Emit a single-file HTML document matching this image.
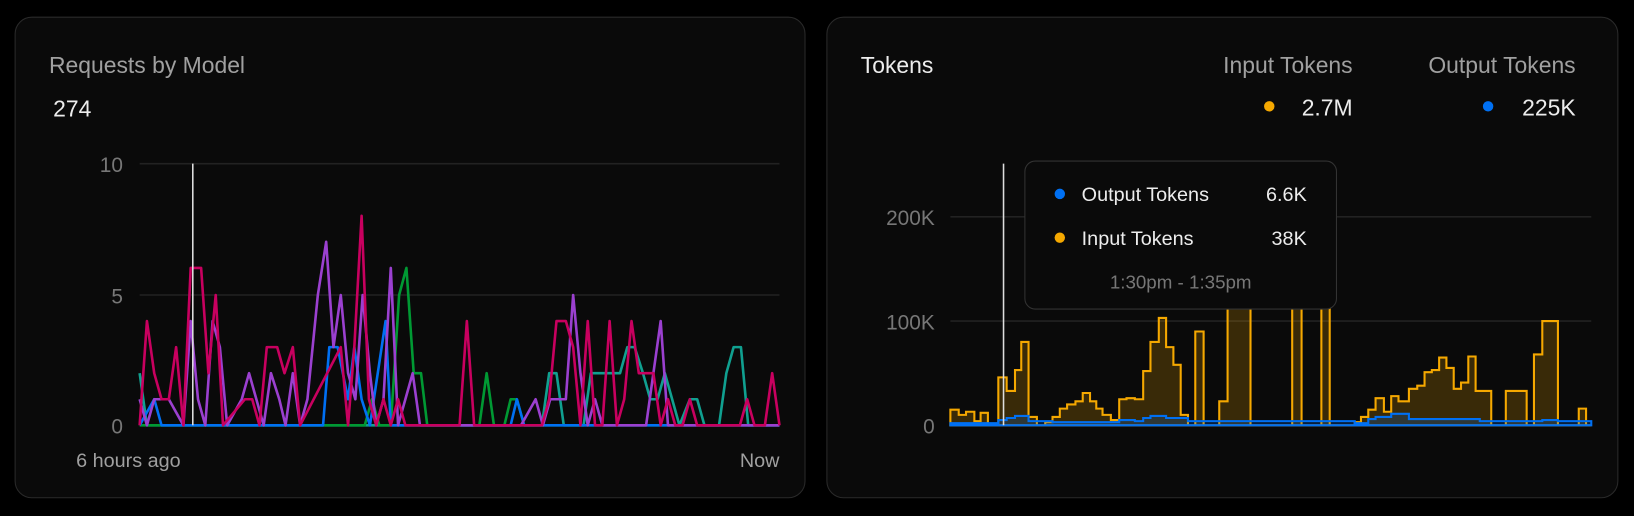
<!DOCTYPE html>
<html><head><meta charset="utf-8"><style>
html,body{margin:0;padding:0;background:#000;width:1634px;height:516px;overflow:hidden}
svg{display:block}
text{font-family:"Liberation Sans",sans-serif}
</style></head><body>
<svg width="1634" height="516" viewBox="0 0 1568 495" preserveAspectRatio="none" xmlns="http://www.w3.org/2000/svg">
<rect x="0" y="0" width="1568" height="495" fill="#000"/>
<rect x="14.5" y="16.5" width="758" height="461" rx="16" fill="#0a0a0a" stroke="#2a2a2a"/>
<rect x="793.5" y="16.5" width="759" height="461" rx="16" fill="#0a0a0a" stroke="#2a2a2a"/>

<!-- left -->
<text x="47" y="70" font-size="22" fill="#a0a0a0">Requests by Model</text>
<text x="51" y="112" font-size="22" fill="#ededed">274</text>
<line x1="134" y1="157" x2="748" y2="157" stroke="#222" stroke-width="1.5"/>
<line x1="134" y1="283" x2="748" y2="283" stroke="#222" stroke-width="1.5"/>
<text x="118" y="165" font-size="20" fill="#777" text-anchor="end">10</text>
<text x="118" y="291" font-size="20" fill="#777" text-anchor="end">5</text>
<text x="118" y="416" font-size="20" fill="#777" text-anchor="end">0</text>
<text x="73" y="448" font-size="19" fill="#a0a0a0">6 hours ago</text>
<text x="748" y="448" font-size="19" fill="#a0a0a0" text-anchor="end">Now</text>
<g fill="none" stroke-width="2.5" stroke-linejoin="round">
<polyline stroke="#10a090" points="134,358 141,408 520,408 527,358 534,358 541,408 560,408 567,358 595,358 602,333 609,333 617,358 624,383 631,383 638,358 645,383 652,408 662,383 669,383 676,408 690,408 697,358 704,333 711,333 718,408 748,408"/>
<polyline stroke="#009933" points="134,408 350,408 357,383 364,408 375,408 383,283 390,257 397,358 404,358 410,408 460,408 467,358 474,408 484,408 490,383 496,383 503,408 748,408"/>
<polyline stroke="#0070f3" points="134,408 148,383 155,408 310,408 316,333 324,333 334,383 340,333 347,383 355,408 370,308 375,408 490,408 496,383 503,408 748,408"/>
<polyline stroke="#9b40d0" points="134,383 141,408 148,383 162,383 176,408 183,308 190,383 197,408 204,308 211,333 218,408 232,383 239,358 246,383 253,408 260,358 268,383 274,408 281,358 288,408 295,383 305,283 313,232 320,333 327,283 334,358 341,383 348,283 355,358 361,408 368,383 375,257 382,408 389,383 396,358 403,408 500,408 514,383 521,408 528,383 543,383 550,283 557,358 564,408 571,383 578,408 620,408 634,308 641,408 748,408"/>
<polyline stroke="#c8005f" points="134,408 141,308 148,358 155,383 162,383 169,333 176,408 183,257 193,257 200,358 207,283 214,408 235,383 242,383 249,408 256,333 266,333 273,358 281,333 288,408 327,333 334,408 340,333 347,207 354,383 361,408 368,383 375,408 382,383 389,408 441,408 448,308 455,408 520,408 527,383 534,308 543,308 550,333 557,408 564,308 571,408 578,408 585,308 592,408 599,383 606,308 613,358 627,358 634,408 641,383 648,408 655,408 662,383 669,408 710,408 717,383 724,408 734,408 741,358 748,408"/>
</g>
<line x1="185" y1="157" x2="185" y2="408" stroke="#ddd" stroke-width="1.5"/>

<!-- right -->
<text x="826" y="70" font-size="22" fill="#ededed">Tokens</text>
<text x="1298" y="70" font-size="22" fill="#a0a0a0" text-anchor="end">Input Tokens</text>
<text x="1512" y="70" font-size="22" fill="#a0a0a0" text-anchor="end">Output Tokens</text>
<circle cx="1218" cy="102" r="5" fill="#f5a800"/>
<text x="1298" y="111" font-size="22" fill="#ededed" text-anchor="end">2.7M</text>
<circle cx="1428" cy="102" r="5" fill="#0070f3"/>
<text x="1512" y="111" font-size="22" fill="#ededed" text-anchor="end">225K</text>
<line x1="912" y1="208" x2="1527" y2="208" stroke="#222" stroke-width="1.5"/>
<line x1="912" y1="308" x2="1527" y2="308" stroke="#222" stroke-width="1.5"/>
<text x="897" y="216" font-size="20" fill="#777" text-anchor="end">200K</text>
<text x="897" y="316" font-size="20" fill="#777" text-anchor="end">100K</text>
<text x="897" y="416" font-size="20" fill="#777" text-anchor="end">0</text>
<path fill="rgba(245,168,0,0.2)" stroke="#f5a800" stroke-width="2" d="M912,408 V393 H920 V398 H927 V395 H935 V404 H941 V396 H948 V408 H958 V362 H966 V375 H974 V355 H980 V328 H987 V400 H995 V408 H1003 V405 H1010 V400 H1017 V392 H1024 V388 H1032 V385 H1039 V377 H1046 V385 H1052 V392 H1058 V398 H1066 V403 H1074 V383 H1081 V382 H1089 V383 H1097 V356 H1104 V328 H1112 V305 H1119 V333 H1126 V350 H1133 V398 H1140 V408 H1147 V318 H1155 V408 H1170 V385 H1178 V200 H1200 V408 H1240 V200 H1249 V408 H1268 V200 H1276 V408 H1300 V405 H1306 V400 H1313 V393 H1320 V382 H1328 V395 H1335 V380 H1342 V385 H1352 V373 H1360 V370 H1367 V357 H1374 V355 H1381 V343 H1388 V353 H1395 V373 H1402 V367 H1409 V342 H1416 V375 H1431 V408 H1445 V375 H1465 V408 H1472 V340 H1480 V308 H1495 V408 H1515 V392 H1522 V408 H1527 V408 Z"/>
<path fill="rgba(0,112,243,0.2)" stroke="#0070f3" stroke-width="2" d="M912,408 V406 H958 V403 H966 V401 H974 V399 H987 V404 H1010 V405 H1074 V403 H1089 V404 H1097 V401 H1104 V399 H1119 V401 H1140 V404 H1300 V406 H1313 V402 H1320 V400 H1335 V397 H1352 V402 H1420 V404 H1480 V403 H1495 V404 H1527 V408 Z"/>
<line x1="963" y1="157" x2="963" y2="408" stroke="#ddd" stroke-width="1.5"/>
<rect x="983.5" y="154.5" width="299" height="142" rx="10" fill="#0a0a0a" stroke="#333"/>
<circle cx="1017" cy="186" r="5" fill="#0070f3"/>
<text x="1038" y="193" font-size="19" fill="#ededed">Output Tokens</text>
<text x="1254" y="193" font-size="19" fill="#ededed" text-anchor="end">6.6K</text>
<circle cx="1017" cy="228" r="5" fill="#f5a800"/>
<text x="1038" y="235" font-size="19" fill="#ededed">Input Tokens</text>
<text x="1254" y="235" font-size="19" fill="#ededed" text-anchor="end">38K</text>
<text x="1133" y="277" font-size="18" fill="#777" text-anchor="middle">1:30pm - 1:35pm</text>
</svg>
</body></html>
